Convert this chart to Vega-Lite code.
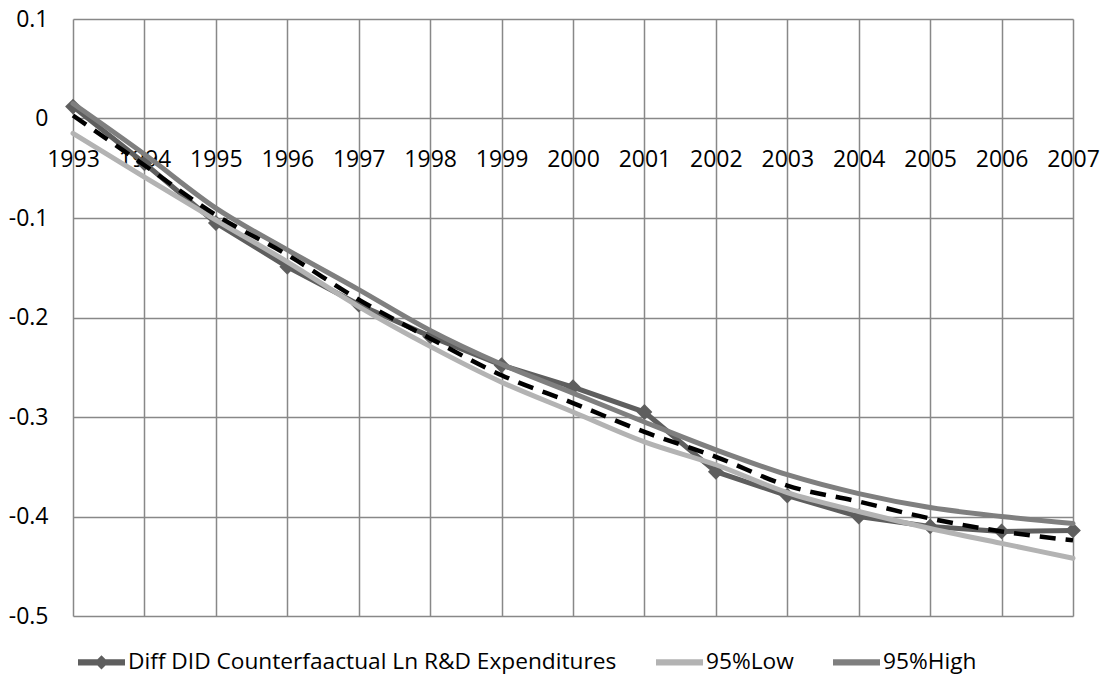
{
  "$schema": "https://vega.github.io/schema/vega-lite/v6.json",
  "width": 1000,
  "height": 597,
  "autosize": "none",
  "padding": {"left": 73, "top": 19, "right": 33, "bottom": 69},
  "background": "white",
  "config": {"view": {"stroke": null}, "font": "Open Sans"},
  "data": {
    "values": [
      {"year": 1993, "series": "Diff DID Counterfaactual Ln R&D Expenditures", "value": 0.012},
      {"year": 1994, "series": "Diff DID Counterfaactual Ln R&D Expenditures", "value": -0.045},
      {"year": 1995, "series": "Diff DID Counterfaactual Ln R&D Expenditures", "value": -0.105},
      {"year": 1996, "series": "Diff DID Counterfaactual Ln R&D Expenditures", "value": -0.149},
      {"year": 1997, "series": "Diff DID Counterfaactual Ln R&D Expenditures", "value": -0.187},
      {"year": 1998, "series": "Diff DID Counterfaactual Ln R&D Expenditures", "value": -0.219},
      {"year": 1999, "series": "Diff DID Counterfaactual Ln R&D Expenditures", "value": -0.248},
      {"year": 2000, "series": "Diff DID Counterfaactual Ln R&D Expenditures", "value": -0.270},
      {"year": 2001, "series": "Diff DID Counterfaactual Ln R&D Expenditures", "value": -0.295},
      {"year": 2002, "series": "Diff DID Counterfaactual Ln R&D Expenditures", "value": -0.355},
      {"year": 2003, "series": "Diff DID Counterfaactual Ln R&D Expenditures", "value": -0.379},
      {"year": 2004, "series": "Diff DID Counterfaactual Ln R&D Expenditures", "value": -0.400},
      {"year": 2005, "series": "Diff DID Counterfaactual Ln R&D Expenditures", "value": -0.410},
      {"year": 2006, "series": "Diff DID Counterfaactual Ln R&D Expenditures", "value": -0.415},
      {"year": 2007, "series": "Diff DID Counterfaactual Ln R&D Expenditures", "value": -0.414},
      {"year": 1993, "series": "95%High", "value": 0.015},
      {"year": 1994, "series": "95%High", "value": -0.036},
      {"year": 1995, "series": "95%High", "value": -0.090},
      {"year": 1996, "series": "95%High", "value": -0.132},
      {"year": 1997, "series": "95%High", "value": -0.172},
      {"year": 1998, "series": "95%High", "value": -0.213},
      {"year": 1999, "series": "95%High", "value": -0.247},
      {"year": 2000, "series": "95%High", "value": -0.276},
      {"year": 2001, "series": "95%High", "value": -0.305},
      {"year": 2002, "series": "95%High", "value": -0.333},
      {"year": 2003, "series": "95%High", "value": -0.358},
      {"year": 2004, "series": "95%High", "value": -0.377},
      {"year": 2005, "series": "95%High", "value": -0.391},
      {"year": 2006, "series": "95%High", "value": -0.400},
      {"year": 2007, "series": "95%High", "value": -0.407},
      {"year": 1993, "series": "95%Low", "value": -0.015},
      {"year": 1994, "series": "95%Low", "value": -0.059},
      {"year": 1995, "series": "95%Low", "value": -0.102},
      {"year": 1996, "series": "95%Low", "value": -0.144},
      {"year": 1997, "series": "95%Low", "value": -0.189},
      {"year": 1998, "series": "95%Low", "value": -0.229},
      {"year": 1999, "series": "95%Low", "value": -0.265},
      {"year": 2000, "series": "95%Low", "value": -0.295},
      {"year": 2001, "series": "95%Low", "value": -0.325},
      {"year": 2002, "series": "95%Low", "value": -0.348},
      {"year": 2003, "series": "95%Low", "value": -0.376},
      {"year": 2004, "series": "95%Low", "value": -0.395},
      {"year": 2005, "series": "95%Low", "value": -0.412},
      {"year": 2006, "series": "95%Low", "value": -0.427},
      {"year": 2007, "series": "95%Low", "value": -0.442},
      {"year": 1993, "series": "Trend", "value": 0.003},
      {"year": 1994, "series": "Trend", "value": -0.047},
      {"year": 1995, "series": "Trend", "value": -0.097},
      {"year": 1996, "series": "Trend", "value": -0.137},
      {"year": 1997, "series": "Trend", "value": -0.182},
      {"year": 1998, "series": "Trend", "value": -0.221},
      {"year": 1999, "series": "Trend", "value": -0.258},
      {"year": 2000, "series": "Trend", "value": -0.286},
      {"year": 2001, "series": "Trend", "value": -0.315},
      {"year": 2002, "series": "Trend", "value": -0.340},
      {"year": 2003, "series": "Trend", "value": -0.369},
      {"year": 2004, "series": "Trend", "value": -0.385},
      {"year": 2005, "series": "Trend", "value": -0.402},
      {"year": 2006, "series": "Trend", "value": -0.415},
      {"year": 2007, "series": "Trend", "value": -0.424}
    ]
  },
  "encoding": {
    "x": {
      "field": "year", "type": "quantitative",
      "scale": {"domain": [1993, 2007], "nice": false, "zero": false},
      "axis": {
        "values": [1993, 1994, 1995, 1996, 1997, 1998, 1999, 2000, 2001, 2002, 2003, 2004, 2005, 2006, 2007],
        "format": "d", "offset": -497.5, "grid": true, "gridColor": "#888888", "gridWidth": 1.5,
        "domain": false, "ticks": false, "tickSize": 0, "labelPadding": 30,
        "labelFontSize": 23, "labelColor": "#000000", "labelFont": "Open Sans",
        "labelOverlap": false, "labelBound": false, "labelFlush": false, "title": null
      }
    },
    "y": {
      "field": "value", "type": "quantitative",
      "scale": {"domain": [-0.5, 0.1], "nice": false, "zero": false},
      "axis": {
        "values": [-0.5, -0.4, -0.3, -0.2, -0.1, 0, 0.1],
        "labelExpr": "datum.value === 0 ? '0' : '' + datum.value",
        "grid": true, "gridColor": "#888888", "gridWidth": 1.5,
        "domain": false, "ticks": false, "tickSize": 0, "labelPadding": 25,
        "labelFontSize": 23, "labelColor": "#000000", "labelFont": "Open Sans",
        "labelOverlap": false, "labelBound": false, "labelFlush": false, "title": null
      }
    }
  },
  "layer": [
    {
      "transform": [{"filter": "datum.series === 'Diff DID Counterfaactual Ln R&D Expenditures'"}],
      "mark": {"type": "line", "strokeWidth": 5, "strokeCap": "round"},
      "encoding": {
        "color": {
          "field": "series", "type": "nominal",
          "scale": {
            "domain": ["Diff DID Counterfaactual Ln R&D Expenditures", "95%Low", "95%High"],
            "range": ["#5e5e5e", "#b3b3b3", "#7f7f7f"]
          },
          "legend": {
            "orient": "none", "legendX": 5, "legendY": 619.5, "direction": "horizontal",
            "title": null, "padding": 0, "offset": 0, "labelLimit": 0,
            "labelFont": "Open Sans", "labelFontSize": 22.7, "labelColor": "#000000",
            "labelOffset": 3, "columnPadding": 39, "symbolSize": 2209, "symbolOffset": 0,
            "encode": {
              "symbols": {
                "update": {
                  "shape": {"signal": "datum.value === 'Diff DID Counterfaactual Ln R&D Expenditures' ? 'M-1,-0.13L-0.17,-0.13L0,-0.3L0.17,-0.13L1,-0.13L1,0.13L0.17,0.13L0,0.3L-0.17,0.13L-1,0.13Z' : 'M-1,-0.13L1,-0.13L1,0.13L-1,0.13Z'"},
                  "fill": {"signal": "scale('color', datum.value)"},
                  "fillOpacity": {"value": 1},
                  "strokeWidth": {"value": 0},
                  "opacity": {"value": 1}
                }
              }
            }
          }
        }
      }
    },
    {
      "transform": [{"filter": "datum.series === 'Diff DID Counterfaactual Ln R&D Expenditures'"}],
      "mark": {"type": "point", "shape": "diamond", "filled": true, "size": 250, "color": "#5e5e5e", "opacity": 1}
    },
    {
      "transform": [{"filter": "datum.series === '95%Low' || datum.series === '95%High'"}],
      "mark": {"type": "line", "interpolate": "monotone", "strokeWidth": 5, "strokeCap": "round"},
      "encoding": {
        "color": {"field": "series", "type": "nominal"}
      }
    },
    {
      "transform": [{"filter": "datum.series === 'Trend'"}],
      "mark": {"type": "line", "interpolate": "monotone", "strokeWidth": 4.5, "color": "#000000", "strokeDash": [16, 10]},
      "encoding": {}
    }
  ]
}
